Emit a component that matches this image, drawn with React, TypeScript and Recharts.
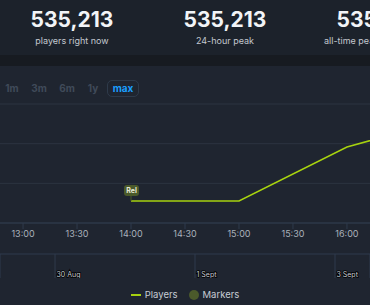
import {
  CartesianGrid,
  Line,
  LineChart,
  ReferenceDot,
  XAxis,
  YAxis,
} from "recharts";

// minutes since midnight
const times = [840, 900, 960, 1020];
const players = [111000, 111000, 383000, 535213];
const timeTicks = [780, 810, 840, 870, 900, 930, 960];
const yTicks = [0, 200000, 400000, 600000];

const markerTimes = [840];
const markerLabels = ["Rel"];

// navigator: day index (Aug 30 = 30, Sept 1 = 32 ...)
const navTicks = [30, 32, 34];
const navLabels = ["30 Aug", "1 Sept", "3 Sept"];

const stats = [
  { value: "535,213", label: "players right now" },
  { value: "535,213", label: "24-hour peak" },
  { value: "535,213", label: "all-time peak" },
];
const ranges = ["1m", "3m", "6m", "1y", "max"];

const data = times.map((t, i) => ({ t, players: players[i] }));
const navData = navTicks.map((d) => ({ d }));

const FONT = "Inter, 'Noto Sans', sans-serif";
const LINE = "#a6d10f";
const MARKER = "#4b5a2b";

const fmtTime = (m: number) =>
  `${String(Math.floor(m / 60)).padStart(2, "0")}:${String(m % 60).padStart(2, "0")}`;

function Flag(props: any) {
  const { cx, cy, label } = props;
  return (
    <g>
      <line x1={cx} x2={cx} y1={cy - 6} y2={cy} stroke={MARKER} strokeWidth={1} />
      <rect x={cx - 7} y={cy - 16} width={15} height={11} rx={3} fill={MARKER} />
      <text
        x={cx + 0.5}
        y={cy - 8}
        textAnchor="middle"
        fontSize={7}
        fontWeight={700}
        fill="#e8ead8"
        fontFamily={FONT}
      >
        {label}
      </text>
    </g>
  );
}

function NavTick(props: any) {
  const { x, y, index } = props;
  return (
    <text
      x={x + 1.5}
      y={y + 23}
      fontSize={7}
      fill="#c9ced6"
      stroke="#000"
      strokeWidth={1.6}
      paintOrder="stroke"
      fontFamily={FONT}
    >
      {navLabels[index]}
    </text>
  );
}

export default function App() {
  return (
    <div
      style={{
        position: "absolute",
        left: 0,
        top: 0,
        width: 370,
        height: 305,
        overflow: "hidden",
        background: "#1f2530",
        fontFamily: FONT,
      }}
    >
      {/* stats band */}
      <div style={{ position: "absolute", left: 0, top: 0, width: 460, height: 55, background: "#1c222b" }}>
        {stats.map((s, i) => (
          <div
            key={i}
            style={{
              position: "absolute",
              left: 72 + i * 153 - 70,
              width: 140,
              top: 7,
              textAlign: "center",
            }}
          >
            <div style={{ fontSize: 21, fontWeight: 700, color: "#f2f4f7", lineHeight: "25px" }}>{s.value}</div>
            <div
              style={{
                fontSize: 9,
                color: "#c3c8cf",
                lineHeight: "13px",
                marginTop: 2,
                whiteSpace: "nowrap",
                // the third caption starts further left in the source
                ...(i === 2 ? { textAlign: "left", marginLeft: 324 - (72 + 2 * 153 - 70) } : {}),
              }}
            >
              {s.label}
            </div>
          </div>
        ))}
      </div>
      <div style={{ position: "absolute", left: 0, top: 55, width: 370, height: 11, background: "#171b21" }} />

      {/* range buttons */}
      {ranges.map((r, i) => {
        const active = r === "max";
        const cx = [12, 39, 67, 93, 123][i];
        return (
          <div
            key={r}
            style={{
              position: "absolute",
              left: cx - 16,
              width: 32,
              top: 80,
              height: 17,
              boxSizing: "border-box",
              border: active ? "1px solid #2e3a4a" : "1px solid transparent",
              borderRadius: 5,
              textAlign: "center",
              fontSize: 10,
              fontWeight: 700,
              lineHeight: "15px",
              color: active ? "#1a9fff" : "#3f4a59",
            }}
          >
            {r}
          </div>
        );
      })}

      {/* main chart */}
      <div style={{ position: "absolute", left: 0, top: 100 }}>
        <LineChart width={370} height={146} data={data} margin={{ top: 4, right: 0, bottom: 0, left: 0 }}>
          <CartesianGrid stroke="#2c3440" vertical={false} />
          <XAxis
            dataKey="t"
            type="number"
            domain={[767.2, 972.8]}
            allowDataOverflow
            ticks={timeTicks}
            tickFormatter={fmtTime}
            stroke="#2f3b4c"
            tickSize={6}
            height={23}
            tick={{ fontSize: 9, fill: "#aab1bb", fontFamily: FONT }}
          />
          <YAxis hide domain={[0, 600000]} ticks={yTicks} />
          <Line
            dataKey="players"
            stroke={LINE}
            strokeWidth={1.6}
            dot={false}
            isAnimationActive={false}
          />
          {markerTimes.map((t, i) => (
            <ReferenceDot
              key={t}
              x={t}
              y={players[times.indexOf(t)]}
              shape={(p: any) => <Flag {...p} label={markerLabels[i]} />}
            />
          ))}
        </LineChart>
      </div>

      {/* navigator */}
      <div style={{ position: "absolute", left: 0, top: 240 }}>
        <LineChart width={370} height={38} data={navData} margin={{ top: 0, right: 0, bottom: 0, left: 0 }}>
          <CartesianGrid stroke="#2f3b4c" horizontal={false} />
          <XAxis
            dataKey="d"
            type="number"
            orientation="top"
            domain={[29.214, 34.5]}
            ticks={navTicks}
            height={14}
            tickSize={0}
            tickMargin={0}
            stroke="#2f3b4c"
            tick={<NavTick />}
          />
          <YAxis hide />
        </LineChart>
      </div>

      {/* legend */}
      <div
        style={{
          position: "absolute",
          left: 0,
          top: 288,
          width: 370,
          display: "flex",
          justifyContent: "center",
          alignItems: "center",
          fontSize: 9.5,
          color: "#c6ccd4",
          lineHeight: "14px",
        }}
      >
        <span style={{ display: "inline-block", width: 10, height: 2, background: LINE, marginRight: 4 }} />
        <span>Players</span>
        <span
          style={{
            display: "inline-block",
            width: 10,
            height: 10,
            borderRadius: 5,
            background: MARKER,
            marginLeft: 11,
            marginRight: 4,
          }}
        />
        <span>Markers</span>
      </div>
    </div>
  );
}
